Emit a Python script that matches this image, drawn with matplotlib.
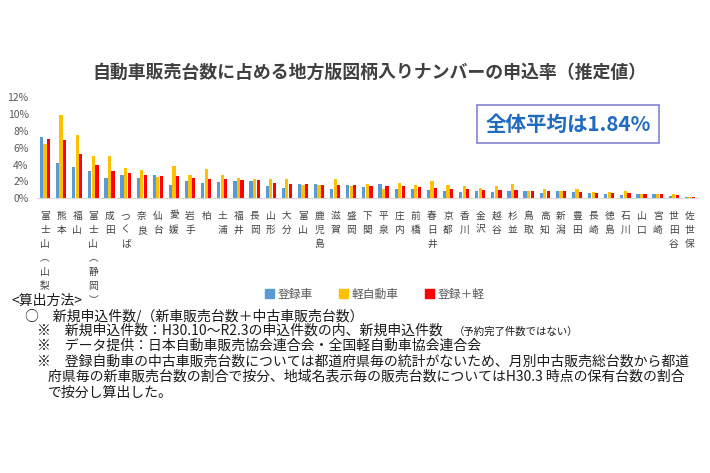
import numpy as np
import matplotlib
matplotlib.use("Agg")
import matplotlib.pyplot as plt
from matplotlib.patches import Patch

plt.rcParams['font.family'] = ['Noto Sans CJK JP', 'DejaVu Sans']

# areas (vertical labels), 富士山 has two entries
areas = ['富士山︵山梨︶', '熊本', '福山', '富士山︵静岡︶', '成田', 'つくば', '奈良', '仙台',
         '愛媛', '岩手', '柏', '土浦', '福井', '長岡', '山形', '大分', '富山', '鹿児島',
         '滋賀', '盛岡', '下関', '平泉', '庄内', '前橋', '春日井', '京都', '香川', '金沢',
         '越谷', '杉並', '鳥取', '高知', '新潟', '豊田', '長崎', '徳島', '石川', '山口',
         '宮崎', '世田谷', '佐世保']

# percent values
toroku = [7.3, 4.25, 3.7, 3.25, 2.4, 2.8, 2.4, 2.8, 1.6, 2.0, 1.85, 1.95, 2.05, 2.0,
          1.4, 1.25, 1.75, 1.7, 1.1, 1.6, 1.3, 1.75, 1.05, 1.15, 1.0, 0.85, 0.75, 0.85,
          0.8, 0.85, 0.87, 0.6, 0.85, 0.7, 0.6, 0.55, 0.4, 0.5, 0.5, 0.3, 0.1]
kei = [6.5, 9.9, 7.55, 5.0, 5.0, 3.6, 3.4, 2.5, 3.8, 2.8, 3.5, 2.8, 2.4, 2.35,
       2.3, 2.3, 1.6, 1.6, 2.3, 1.5, 1.75, 1.15, 1.85, 1.6, 2.05, 1.6, 1.45, 1.25,
       1.4, 1.75, 0.87, 1.1, 0.85, 1.15, 0.75, 0.75, 0.85, 0.55, 0.5, 0.55, 0.15]
goukei = [7.0, 6.95, 5.3, 4.0, 3.2, 3.05, 2.8, 2.65, 2.6, 2.4, 2.35, 2.25, 2.2, 2.2,
          1.8, 1.75, 1.7, 1.6, 1.6, 1.6, 1.5, 1.5, 1.4, 1.3, 1.25, 1.05, 1.05, 1.0,
          0.95, 0.95, 0.87, 0.85, 0.85, 0.75, 0.65, 0.65, 0.6, 0.5, 0.5, 0.35, 0.12]
yticks = [0, 2, 4, 6, 8, 10, 12]
series_names = ['登録車', '軽自動車', '登録＋軽']
colors = ['#5B9BD5', '#FFC000', '#FF0000']

fig = plt.figure(figsize=(7.1, 4.73), dpi=100)
ax = fig.add_axes([0.052, 0.5808, 0.931, 0.2135])

x = np.arange(len(areas))
w = 0.2
for i, (vals, c) in enumerate(zip([toroku, kei, goukei], colors)):
    ax.bar(x + (i - 1) * 0.22, vals, width=w, color=c, linewidth=0)

ax.set_xlim(-0.5, len(areas) - 0.5)
ax.set_ylim(0, 12)
ax.set_yticks(yticks)
ax.set_yticklabels([f'{v}%' for v in yticks], color='#595959', fontsize=7.5)
ax.set_xticks(x)
labs = ax.set_xticklabels(['\n'.join(a) for a in areas], fontsize=7, color='#404040',
                          va='top', linespacing=1.5)
ax.tick_params(length=0)
ax.tick_params(axis='y', pad=6)
ax.tick_params(axis='x', pad=9)
for s in ['top', 'right', 'left']:
    ax.spines[s].set_visible(False)
ax.spines['bottom'].set_color('#D9D9D9')

fig.text(0.521, 1 - 73 / 473, '自動車販売台数に占める地方版図柄入りナンバーの申込率（推定値）',
         ha='center', va='center', fontsize=12.9, fontweight='bold', color='#404040')

fig.text(0.8, 1 - 124 / 473, '全体平均は1.84%', ha='center', va='center',
         fontsize=14.8, fontweight='bold', color='#1F6BC0',
         bbox=dict(boxstyle='square,pad=0.42', fc='white', ec='#8E8CD8', lw=1.3))

handles = [Patch(color=c) for c in colors]
fig.legend(handles, series_names, loc='center', bbox_to_anchor=(0.528, 1 - 294 / 473),
           ncol=3, frameon=False, fontsize=8.5, labelcolor='#595959',
           handlelength=0.8, handleheight=0.8, handletextpad=0.3, columnspacing=2.2)

# the notes block sits over the bottom of the first label, like the slide
fig.text(12 / 710, 1 - 301 / 473, '<算出方法>', ha='left', va='center', fontsize=10,
         color='#1a1a1a', zorder=5,
         bbox=dict(boxstyle='square,pad=0.05', fc='white', ec='none'))

notes = [
    (25, 316, '○　新規申込件数/（新車販売台数＋中古車販売台数）'),
    (37, 331, '※　新規申込件数：H30.10～R2.3の申込件数の内、新規申込件数'),
    (37, 346, '※　データ提供：日本自動車販売協会連合会・全国軽自動車協会連合会'),
    (37, 362, '※　登録自動車の中古車販売台数については都道府県毎の統計がないため、月別中古販売総台数から都道'),
    (48, 377, '府県毎の新車販売台数の割合で按分、地域名表示毎の販売台数についてはH30.3 時点の保有台数の割合'),
    (48, 393, 'で按分し算出した。'),
]
for nx, ny, t in notes:
    fig.text(nx / 710, 1 - ny / 473, t, ha='left', va='center', fontsize=10, color='#1a1a1a')
fig.text(454 / 710, 1 - 332 / 473, '（予約完了件数ではない）', ha='left', va='center',
         fontsize=7.5, color='#1a1a1a')

fig.savefig('out.png', dpi=100)
